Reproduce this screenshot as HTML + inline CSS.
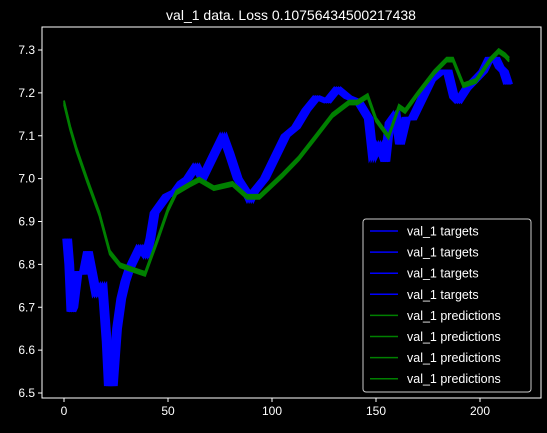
<!DOCTYPE html>
<html><head><meta charset="utf-8"><style>
html,body{margin:0;padding:0;background:#000;}
svg{display:block;font-family:"Liberation Sans","DejaVu Sans",sans-serif;}
</style></head><body>
<svg id="chart" width="547" height="433" viewBox="0 0 547 433" xmlns="http://www.w3.org/2000/svg">
<rect width="547" height="433" fill="#000"/>
<text x="291" y="20" fill="#fff" font-size="14" text-anchor="middle">val_1 data. Loss 0.10756434500217438</text>
<g id="plot"></g>
<rect x="42" y="27" width="499" height="371" fill="none" stroke="#fff" stroke-width="1"/>
<g id="axes"></g>
<g id="legend"></g>
</svg>
<script>
const targetX = [0,1,2,3,5,8,10,12,14,17,19,20,22,24,26,28,30,33,35,38,40,42,45,48,52,55,58,62,65,70,75,78,82,86,88,90,95,100,105,110,115,120,125,130,135,140,145,147,150,153,155,158,160,163,166,170,175,180,183,186,188,192,196,200,203,206,208,210,212];
const targetY = [6.86,6.8,6.69,6.7,6.78,6.78,6.83,6.78,6.73,6.75,6.62,6.52,6.52,6.65,6.72,6.76,6.79,6.82,6.84,6.82,6.86,6.92,6.94,6.96,6.97,6.99,7.0,7.03,7.0,7.05,7.1,7.06,7.0,6.97,6.95,6.97,7.0,7.05,7.1,7.12,7.16,7.19,7.18,7.21,7.19,7.18,7.14,7.05,7.08,7.04,7.13,7.15,7.08,7.14,7.14,7.18,7.23,7.25,7.25,7.19,7.18,7.21,7.23,7.25,7.28,7.28,7.26,7.25,7.22];
const predX = [0,3,6,11,17,22,27,33,39,45,50,54,61,65,72,81,88,94,105,113,121,129,137,141,146,150,156,161,164,170,178,184,187,192,198,205,209,212,214];
const predY = [7.18,7.12,7.07,7.0,6.92,6.83,6.8,6.79,6.78,6.86,6.93,6.97,6.99,7.0,6.98,6.99,6.96,6.96,7.01,7.05,7.1,7.15,7.18,7.18,7.195,7.14,7.1,7.17,7.16,7.2,7.25,7.28,7.28,7.22,7.23,7.28,7.3,7.29,7.28];
const xTicks = [0,50,100,150,200];
const yTicks = [6.5,6.6,6.7,6.8,6.9,7.0,7.1,7.2,7.3];
const legendLabels = ["val_1 targets","val_1 targets","val_1 targets","val_1 targets","val_1 predictions","val_1 predictions","val_1 predictions","val_1 predictions"];

const NS="http://www.w3.org/2000/svg";
const xs = v => 64 + v*2.08;
const ys = v => 393 - (v-6.5)*428.75;
function mk(tag, parent){const e=document.createElementNS(NS,tag);parent.appendChild(e);return e;}
const plot=document.getElementById('plot');
function pathD(X,Y,dx,dy){return X.map((x,i)=>(i?'L':'M')+(xs(x)+dx).toFixed(1)+' '+(ys(Y[i])+dy).toFixed(1)).join(' ');}
[0,1,2,3].forEach(k=>{
  const p=mk('path',plot);
  
  
  p.setAttribute('d',pathD(targetX,targetY,k*2.1,0));
  p.setAttribute('fill','none');p.setAttribute('stroke','#0000ff');p.setAttribute('stroke-width','3.5');
});
[-1,0,1.5,3].forEach((off,k)=>{
  const p=mk('path',plot);
  
  
  p.setAttribute('d',pathD(predX,predY,0,off));
  p.setAttribute('fill','none');p.setAttribute('stroke','#008000');p.setAttribute('stroke-width','1.8');
});
const axes=document.getElementById('axes');
xTicks.forEach(t=>{
  const l=mk('line',axes);
  
  
  l.setAttribute('x1',xs(t));l.setAttribute('x2',xs(t));l.setAttribute('y1',398);l.setAttribute('y2',402);l.setAttribute('stroke','#fff');
  const tx=mk('text',axes);
  
  
  tx.setAttribute('x',xs(t));tx.setAttribute('y',415);tx.setAttribute('fill','#fff');tx.setAttribute('font-size','12');tx.setAttribute('text-anchor','middle');tx.textContent=t;
});
yTicks.forEach(t=>{
  const l=mk('line',axes);
  
  
  l.setAttribute('x1',38);l.setAttribute('x2',42);l.setAttribute('y1',ys(t));l.setAttribute('y2',ys(t));l.setAttribute('stroke','#fff');
  const tx=mk('text',axes);
  
  
  tx.setAttribute('x',35);tx.setAttribute('y',ys(t)+4);tx.setAttribute('fill','#fff');tx.setAttribute('font-size','12');tx.setAttribute('text-anchor','end');tx.textContent=t.toFixed(1);
});
const lg=document.getElementById('legend');
const box=mk('rect',lg);


box.setAttribute('x',363);box.setAttribute('y',219);box.setAttribute('width',168);box.setAttribute('height',173);box.setAttribute('rx',3);box.setAttribute('fill','#000');box.setAttribute('fill-opacity','0.8');box.setAttribute('stroke','#ccc');
legendLabels.forEach((s,i)=>{
  const y=231+i*21.1;
  const l=mk('line',lg);
  
  
  l.setAttribute('x1',370);l.setAttribute('x2',398);l.setAttribute('y1',y);l.setAttribute('y2',y);l.setAttribute('stroke',i<4?'#0000ff':'#008000');l.setAttribute('stroke-width','1.5');
  const tx=mk('text',lg);
  
  
  tx.setAttribute('x',407);tx.setAttribute('y',y+4.5);tx.setAttribute('fill','#fff');tx.setAttribute('font-size','12.5');tx.textContent=s;
});
</script>
</body></html>
